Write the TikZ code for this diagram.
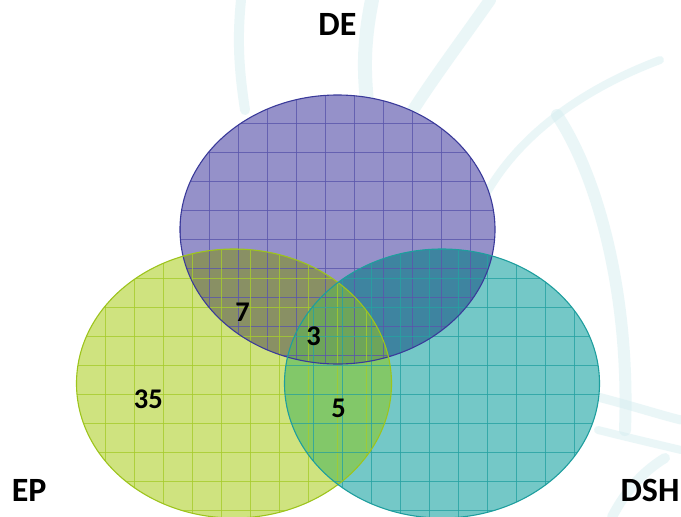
\documentclass[tikz,border=0pt]{standalone}
\usepackage{fontspec}
\setmainfont{Carlito}
\definecolor{swoosh}{HTML}{D6EEF1}
\definecolor{deFill}{HTML}{9591C9}
\definecolor{epFill}{HTML}{CFE37F}
\definecolor{dshFill}{HTML}{74C8C7}
\definecolor{deEp}{HTML}{899064}
\definecolor{deDsh}{HTML}{3E84A0}
\definecolor{epDsh}{HTML}{82C869}
\definecolor{allThree}{HTML}{6EA55A}
\definecolor{deLine}{HTML}{3A3A9A}
\definecolor{epLine}{HTML}{9DC41C}
\definecolor{dshLine}{HTML}{1E9E9E}
\definecolor{deGrid}{HTML}{5A56AC}
\definecolor{epGrid}{HTML}{A6CC2C}
\definecolor{dshGrid}{HTML}{26A2A2}
\tikzset{
  swooshline/.style={draw=swoosh, draw opacity=0.5, line cap=round},
  gridline/.style={line width=0.9pt, draw opacity=0.8},
  border/.style={line width=1.1pt},
  biglabel/.style={inner sep=0pt, font=\bfseries\fontsize{34}{40}\selectfont},
  numlabel/.style={inner sep=0pt, font=\bfseries\fontsize{28.5}{34}\selectfont}
}
\begin{document}
\begin{tikzpicture}[x=1pt,y=-1pt]
\useasboundingbox (0,0) rectangle (681,517);
\fill[white] (0,0) rectangle (681,517);
% background swooshes
\draw[swooshline, line width=10pt] (241,0) .. controls (237,40) and (239,70) .. (245,110);
\draw[swooshline, line width=14pt] (372,0) .. controls (364,40) and (363,70) .. (368,110);
\draw[swooshline, line width=12pt] (490,0) .. controls (462,40) and (432,80) .. (410,115);
\draw[swooshline, line width=8pt] (660,60) .. controls (580,90) and (510,140) .. (478,210);
\draw[swooshline, line width=12pt] (557,115) .. controls (600,180) and (630,300) .. (625,430);
\draw[swooshline, line width=9pt] (590,395) .. controls (630,405) and (660,415) .. (681,420);
\draw[swooshline, line width=8pt] (598,430) .. controls (630,438) and (660,445) .. (681,450);
\draw[swooshline, line width=10pt] (612,517) .. controls (625,492) and (642,472) .. (665,458);
% centres
\coordinate (cDE) at (337.5,229.5);
\coordinate (cEP) at (234,383.5);
\coordinate (cDSH) at (442,383.5);
\def\rx{157.5}\def\ry{134.5}
% single fills
\fill[deFill] (cDE) ellipse [x radius=\rx, y radius=\ry];
\fill[epFill] (cEP) ellipse [x radius=\rx, y radius=\ry];
\fill[dshFill] (cDSH) ellipse [x radius=\rx, y radius=\ry];
% pairwise overlaps
\begin{scope}
  \clip (cDE) ellipse [x radius=\rx, y radius=\ry];
  \fill[deEp] (cEP) ellipse [x radius=\rx, y radius=\ry];
  \fill[deDsh] (cDSH) ellipse [x radius=\rx, y radius=\ry];
\end{scope}
\begin{scope}
  \clip (cEP) ellipse [x radius=\rx, y radius=\ry];
  \fill[epDsh] (cDSH) ellipse [x radius=\rx, y radius=\ry];
  \clip (cDE) ellipse [x radius=\rx, y radius=\ry];
  \fill[allThree] (cDSH) ellipse [x radius=\rx, y radius=\ry];
\end{scope}
% grids
\begin{scope}
  \clip (cDE) ellipse [x radius=\rx, y radius=\ry];
  \foreach \i in {-1,...,10} \draw[gridline, deGrid] ({209.3+29*\i},90) -- ({209.3+29*\i},370);
  \foreach \i in {-1,...,8} \draw[gridline, deGrid] (175,{123.3+29*\i}) -- (500,{123.3+29*\i});
\end{scope}
\begin{scope}
  \clip (cEP) ellipse [x radius=\rx, y radius=\ry];
  \foreach \i in {-1,...,10} \draw[gridline, epGrid] ({105.7+29*\i},245) -- ({105.7+29*\i},520);
  \foreach \i in {-1,...,8} \draw[gridline, epGrid] (70,{278.7+29*\i}) -- (400,{278.7+29*\i});
\end{scope}
\begin{scope}
  \clip (cDSH) ellipse [x radius=\rx, y radius=\ry];
  \foreach \i in {-3,...,8} \draw[gridline, dshGrid] ({371.7+29*\i},245) -- ({371.7+29*\i},520);
  \foreach \i in {-1,...,8} \draw[gridline, dshGrid] (280,{278.7+29*\i}) -- (605,{278.7+29*\i});
\end{scope}
% borders
\draw[border, deLine] (cDE) ellipse [x radius=\rx, y radius=\ry];
\draw[border, epLine] (cEP) ellipse [x radius=\rx, y radius=\ry];
\draw[border, dshLine] (cDSH) ellipse [x radius=\rx, y radius=\ry];
% labels
\node[biglabel] (lDE) at (337.5,24.5) {DE};
\node[biglabel] (lEP) at (29.2,490) {EP};
\node[biglabel] (lDSH) at (650,490) {DSH};
\node[numlabel] (n7) at (242.5,312.5) {7};
\node[numlabel] (n3) at (313.7,336.2) {3};
\node[numlabel] (n35) at (148.3,399) {35};
\node[numlabel] (n5) at (338.6,408) {5};
\end{tikzpicture}
\end{document}
